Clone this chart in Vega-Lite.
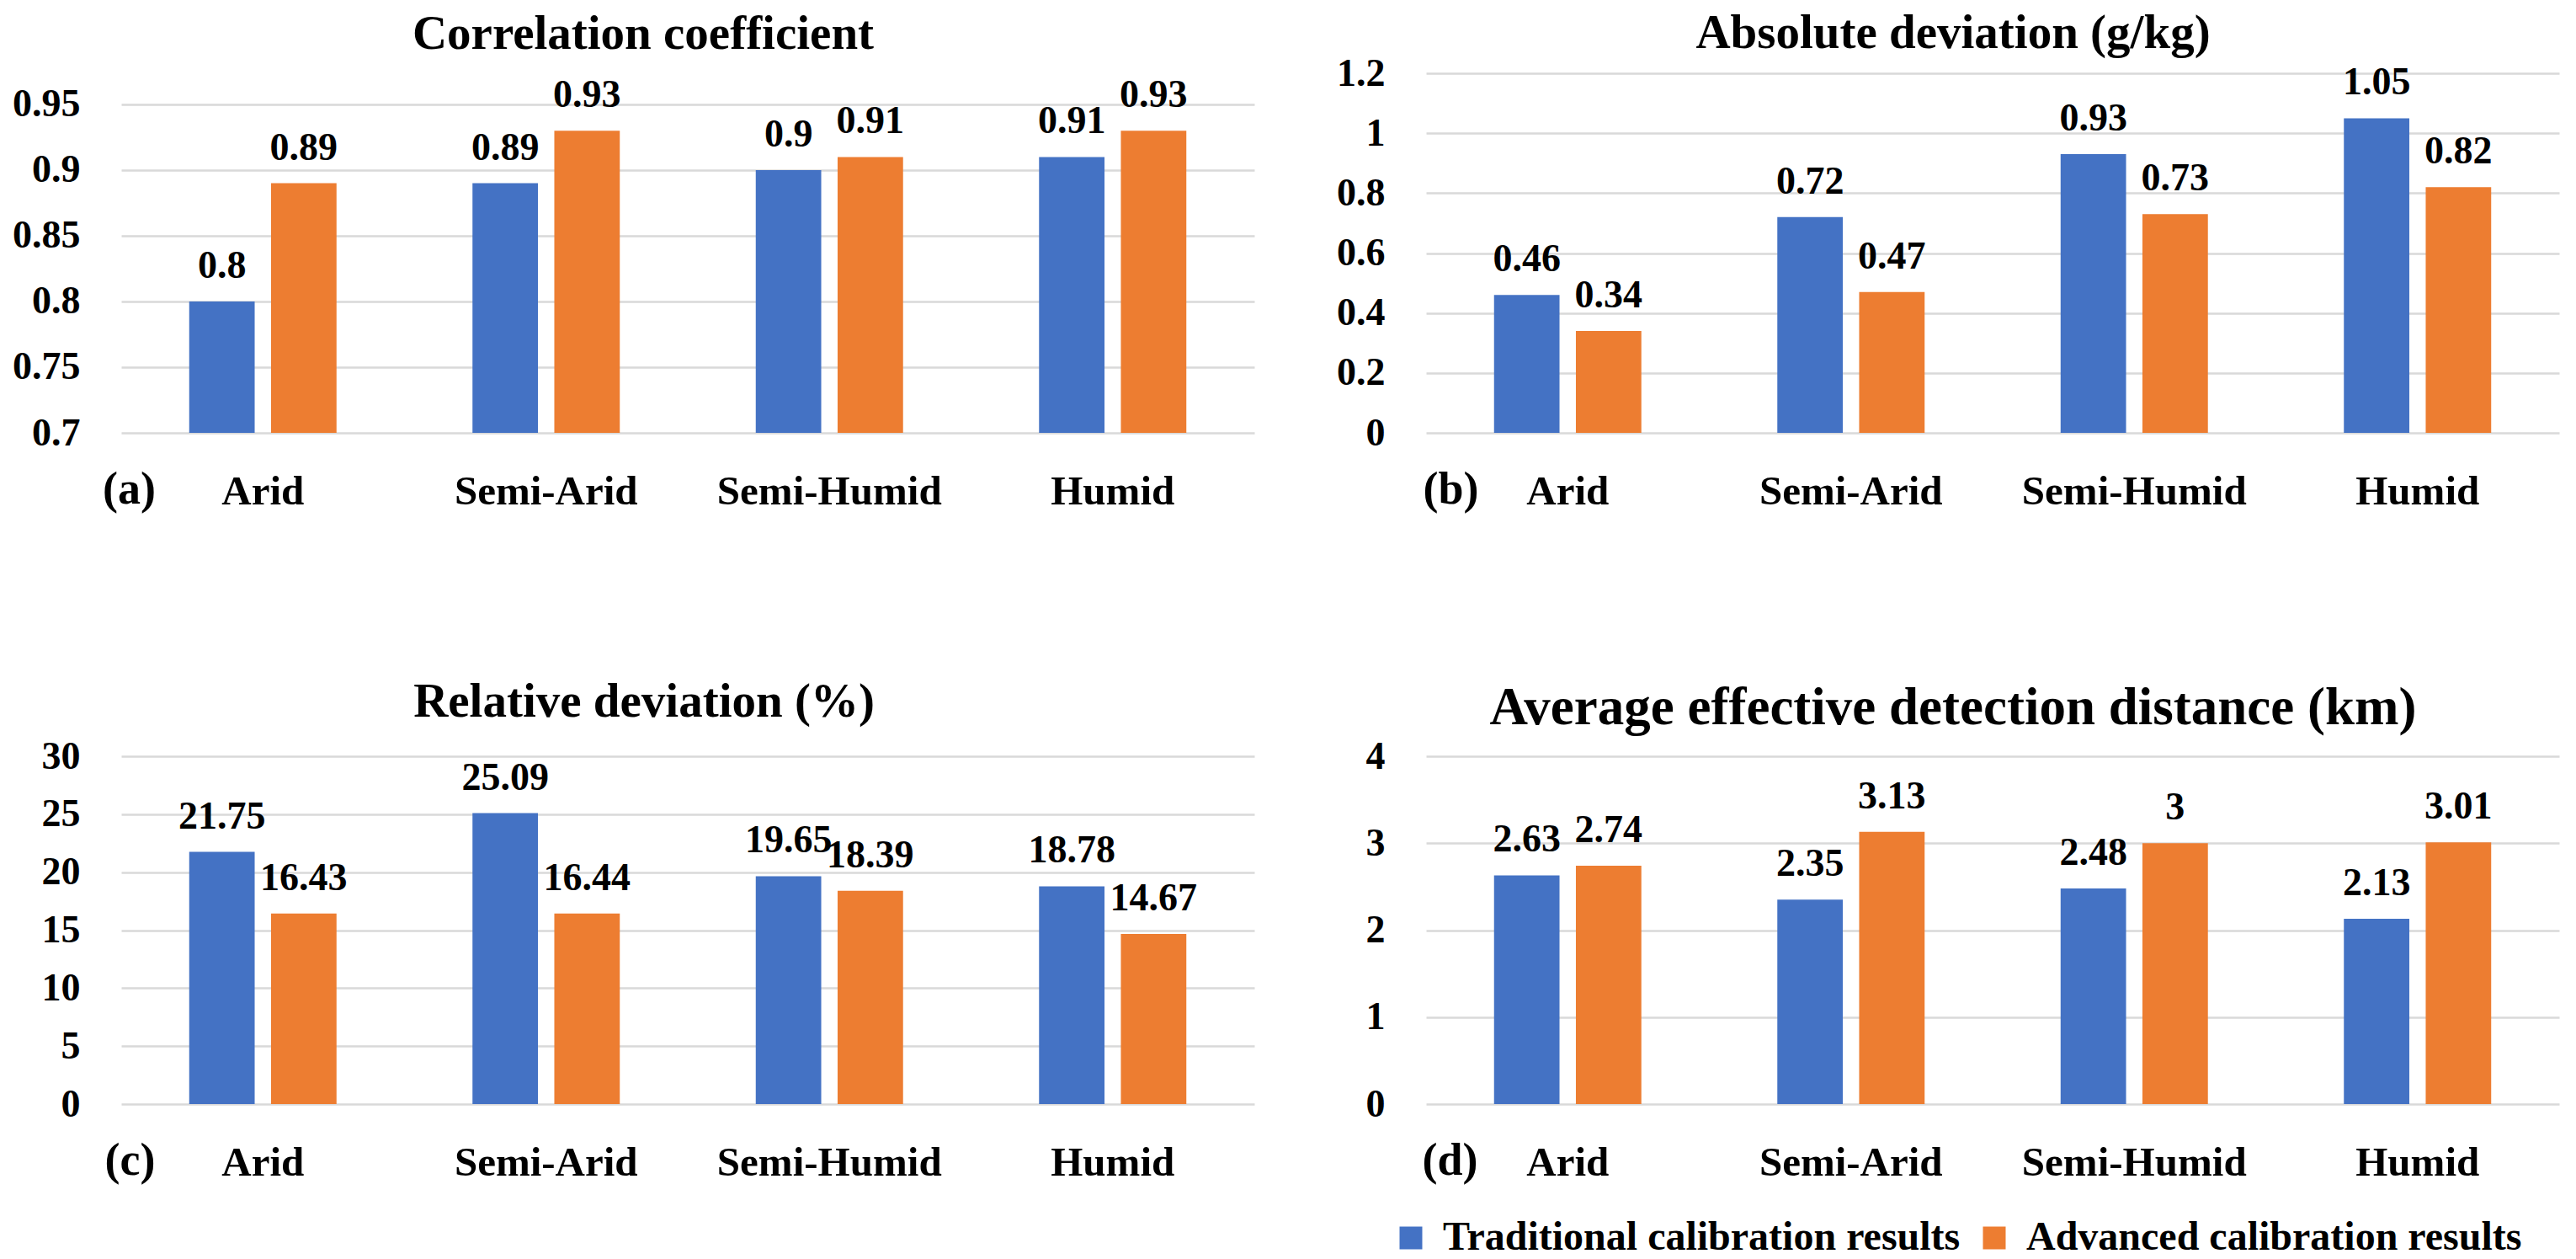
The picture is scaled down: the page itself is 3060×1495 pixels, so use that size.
{
  "$schema": "https://vega.github.io/schema/vega-lite/v6.json",
  "background": "white",
  "padding": {"left": 14, "top": 11, "right": 5, "bottom": 5},
  "config": {
    "font": "Liberation Serif",
    "view": {"stroke": null},
    "title": {"font": "Liberation Serif", "fontSize": 57, "fontWeight": "bold", "color": "#000000", "anchor": "middle", "frame": "group"},
    "axisY": {"grid": true, "gridColor": "#d9d9d9", "gridWidth": 2.5, "domain": false, "ticks": false, "tickSize": 0, "labelFont": "Liberation Serif", "labelFontSize": 46, "labelFontWeight": "bold", "labelColor": "#000000", "labelPadding": 49, "title": null, "labelExpr": "'' + datum.value"},
    "axisX": {"grid": false, "domain": false, "ticks": false, "tickSize": 0, "labelFont": "Liberation Serif", "labelFontSize": 49, "labelFontWeight": "bold", "labelColor": "#000000", "labelPadding": 45, "labelAngle": 0, "labelLimit": 0, "titleFont": "Liberation Serif", "titleFontSize": 54, "titleFontWeight": "bold", "titleColor": "#000000", "titleBaseline": "alphabetic", "titleAlign": "center", "titleY": 83},
    "text": {"font": "Liberation Serif", "fontSize": 46, "fontWeight": "bold", "color": "#000000"},
    "legend": {"labelFont": "Liberation Serif", "labelFontSize": 48, "labelFontWeight": "bold", "labelColor": "#000000", "labelLimit": 0, "symbolType": "square", "symbolSize": 729, "symbolStrokeWidth": 0, "labelOffset": 14, "columnPadding": 16, "padding": 0}
  },
  "resolve": {"legend": {"color": "independent"}},
  "vconcat": [
    {
      "hconcat": [
        {
          "width": 1346, "height": 427,
          "title": {"text": "Correlation coefficient", "dx": -53, "offset": 17},
          "data": {"values": [
            {"region": "Arid", "series": "Traditional calibration results", "value": 0.8},
            {"region": "Semi-Arid", "series": "Traditional calibration results", "value": 0.89},
            {"region": "Semi-Humid", "series": "Traditional calibration results", "value": 0.9},
            {"region": "Humid", "series": "Traditional calibration results", "value": 0.91},
            {"region": "Arid", "series": "Advanced calibration results", "value": 0.89},
            {"region": "Semi-Arid", "series": "Advanced calibration results", "value": 0.93},
            {"region": "Semi-Humid", "series": "Advanced calibration results", "value": 0.91},
            {"region": "Humid", "series": "Advanced calibration results", "value": 0.93}
          ]},
          "encoding": {
            "x": {"field": "region", "type": "nominal", "sort": ["Arid", "Semi-Arid", "Semi-Humid", "Humid"], "scale": {"paddingInner": 0.48, "paddingOuter": 0.24}, "axis": {"title": "(a)", "titleX": 9}},
            "xOffset": {"field": "series", "type": "nominal", "sort": ["Traditional calibration results", "Advanced calibration results"], "scale": {"paddingInner": 0.2}},
            "y": {"field": "value", "type": "quantitative", "scale": {"domain": [0.7, 0.9737], "nice": false, "zero": false}, "axis": {"values": [0.7, 0.75, 0.8, 0.85, 0.9, 0.95]}}
          },
          "layer": [
            {"mark": {"type": "bar"}, "encoding": {"y2": {"datum": 0.7}, "color": {"field": "series", "type": "nominal", "sort": ["Traditional calibration results", "Advanced calibration results"], "scale": {"domain": ["Traditional calibration results", "Advanced calibration results"], "range": ["#4472C4", "#ED7D31"]}, "legend": null}}},
            {"mark": {"type": "text", "baseline": "alphabetic", "dy": -28}, "encoding": {"text": {"field": "value", "type": "quantitative", "format": ""}}}
          ]
        },
        {
          "width": 1346, "height": 427,
          "title": {"text": "Absolute deviation (g/kg)", "dx": -47, "offset": -5},
          "data": {"values": [
            {"region": "Arid", "series": "Traditional calibration results", "value": 0.46},
            {"region": "Semi-Arid", "series": "Traditional calibration results", "value": 0.72},
            {"region": "Semi-Humid", "series": "Traditional calibration results", "value": 0.93},
            {"region": "Humid", "series": "Traditional calibration results", "value": 1.05},
            {"region": "Arid", "series": "Advanced calibration results", "value": 0.34},
            {"region": "Semi-Arid", "series": "Advanced calibration results", "value": 0.47},
            {"region": "Semi-Humid", "series": "Advanced calibration results", "value": 0.73},
            {"region": "Humid", "series": "Advanced calibration results", "value": 0.82}
          ]},
          "encoding": {
            "x": {"field": "region", "type": "nominal", "sort": ["Arid", "Semi-Arid", "Semi-Humid", "Humid"], "scale": {"paddingInner": 0.48, "paddingOuter": 0.24}, "axis": {"title": "(b)", "titleX": 29}},
            "xOffset": {"field": "series", "type": "nominal", "sort": ["Traditional calibration results", "Advanced calibration results"], "scale": {"paddingInner": 0.2}},
            "y": {"field": "value", "type": "quantitative", "scale": {"domain": [0, 1.2], "nice": false}, "axis": {"values": [0, 0.2, 0.4, 0.6, 0.8, 1, 1.2]}}
          },
          "layer": [
            {"mark": {"type": "bar"}, "encoding": {"color": {"field": "series", "type": "nominal", "sort": ["Traditional calibration results", "Advanced calibration results"], "scale": {"domain": ["Traditional calibration results", "Advanced calibration results"], "range": ["#4472C4", "#ED7D31"]}, "legend": null}}},
            {"mark": {"type": "text", "baseline": "alphabetic", "dy": -28}, "encoding": {"text": {"field": "value", "type": "quantitative", "format": ""}}}
          ]
        }
      ],
      "spacing": 97
    },
    {
      "resolve": {"legend": {"color": "independent"}},
      "hconcat": [
        {
          "width": 1346, "height": 413,
          "title": {"text": "Relative deviation (%)", "dx": -52, "offset": 12},
          "data": {"values": [
            {"region": "Arid", "series": "Traditional calibration results", "value": 21.75},
            {"region": "Semi-Arid", "series": "Traditional calibration results", "value": 25.09},
            {"region": "Semi-Humid", "series": "Traditional calibration results", "value": 19.65},
            {"region": "Humid", "series": "Traditional calibration results", "value": 18.78},
            {"region": "Arid", "series": "Advanced calibration results", "value": 16.43},
            {"region": "Semi-Arid", "series": "Advanced calibration results", "value": 16.44},
            {"region": "Semi-Humid", "series": "Advanced calibration results", "value": 18.39},
            {"region": "Humid", "series": "Advanced calibration results", "value": 14.67}
          ]},
          "encoding": {
            "x": {"field": "region", "type": "nominal", "sort": ["Arid", "Semi-Arid", "Semi-Humid", "Humid"], "scale": {"paddingInner": 0.48, "paddingOuter": 0.24}, "axis": {"title": "(c)", "titleX": 10}},
            "xOffset": {"field": "series", "type": "nominal", "sort": ["Traditional calibration results", "Advanced calibration results"], "scale": {"paddingInner": 0.2}},
            "y": {"field": "value", "type": "quantitative", "scale": {"domain": [0, 30], "nice": false}, "axis": {"values": [0, 5, 10, 15, 20, 25, 30]}}
          },
          "layer": [
            {"mark": {"type": "bar"}, "encoding": {"color": {"field": "series", "type": "nominal", "sort": ["Traditional calibration results", "Advanced calibration results"], "scale": {"domain": ["Traditional calibration results", "Advanced calibration results"], "range": ["#4472C4", "#ED7D31"]}, "legend": null}}},
            {"mark": {"type": "text", "baseline": "alphabetic", "dy": -28}, "encoding": {"text": {"field": "value", "type": "quantitative", "format": ""}}}
          ]
        },
        {
          "width": 1346, "height": 413,
          "title": {"text": "Average effective detection distance (km)", "fontSize": 63, "dx": -47, "offset": 2},
          "data": {"values": [
            {"region": "Arid", "series": "Traditional calibration results", "value": 2.63},
            {"region": "Semi-Arid", "series": "Traditional calibration results", "value": 2.35},
            {"region": "Semi-Humid", "series": "Traditional calibration results", "value": 2.48},
            {"region": "Humid", "series": "Traditional calibration results", "value": 2.13},
            {"region": "Arid", "series": "Advanced calibration results", "value": 2.74},
            {"region": "Semi-Arid", "series": "Advanced calibration results", "value": 3.13},
            {"region": "Semi-Humid", "series": "Advanced calibration results", "value": 3},
            {"region": "Humid", "series": "Advanced calibration results", "value": 3.01}
          ]},
          "encoding": {
            "x": {"field": "region", "type": "nominal", "sort": ["Arid", "Semi-Arid", "Semi-Humid", "Humid"], "scale": {"paddingInner": 0.48, "paddingOuter": 0.24}, "axis": {"title": "(d)", "titleX": 28}},
            "xOffset": {"field": "series", "type": "nominal", "sort": ["Traditional calibration results", "Advanced calibration results"], "scale": {"paddingInner": 0.2}},
            "y": {"field": "value", "type": "quantitative", "scale": {"domain": [0, 4], "nice": false}, "axis": {"values": [0, 1, 2, 3, 4]}}
          },
          "layer": [
            {"mark": {"type": "bar"}, "encoding": {"color": {"field": "series", "type": "nominal", "sort": ["Traditional calibration results", "Advanced calibration results"], "scale": {"domain": ["Traditional calibration results", "Advanced calibration results"], "range": ["#4472C4", "#ED7D31"]}, "legend": {"title": null, "orient": "none", "direction": "horizontal", "legendX": -42, "legendY": 548}}}},
            {"mark": {"type": "text", "baseline": "alphabetic", "dy": -28}, "encoding": {"text": {"field": "value", "type": "quantitative", "format": ""}}}
          ]
        }
      ],
      "spacing": 132
    }
  ],
  "spacing": 197
}
